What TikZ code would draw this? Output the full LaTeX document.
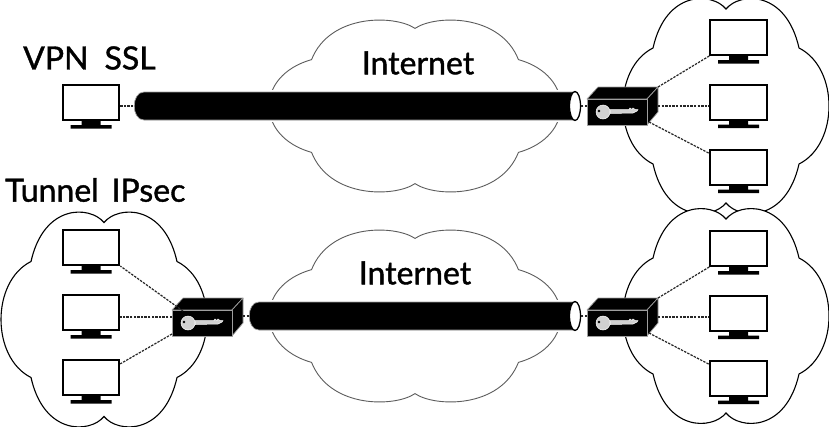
\documentclass[tikz,border=0pt]{standalone}
\usepackage{fontspec}
\usetikzlibrary{shapes.geometric}
\setmainfont[FakeBold=1.2]{Lato}
\definecolor{edgegray}{gray}{0.62}
\definecolor{netgray}{gray}{0.36}
\tikzset{
  x=1pt,y=-1pt,
  screen/.style={draw=black,fill=white,line width=2pt,minimum width=56.5pt,minimum height=35pt,inner sep=0pt,outer sep=1pt},
  link/.style={line width=1.2pt,dash pattern=on 2.4pt off 1.2pt,draw=black!85},
  sidecloud/.style={draw=black,line width=1.1pt,fill=white},
  netcloud/.style={draw=netgray,line width=0.9pt,fill=white},
  tubebody/.style={fill=black,draw=edgegray,line width=0.7pt},
  tubemouth/.style={fill=white,draw=black,line width=1.3pt},
  boxface/.style={fill=black,draw=edgegray,line width=0.7pt,line join=round},
  frontface/.style={boxface,minimum width=60pt,minimum height=26pt,inner sep=0pt,outer sep=0pt},
  keypart/.style={fill=white!82!black,draw=white,line width=0.5pt},
  handtext/.style={font=\fontsize{32}{36}\selectfont,inner sep=0pt,text=black}
}
\newcommand{\cloudat}[5]{% style, cx, cy, xscale, yscale
  \path[#1,shift={(#2,#3)}] (0,-97*#5) 
    .. controls (-14*#4,-114*#5) and (-60*#4,-116*#5) .. (-73*#4,-58*#5)
    .. controls (-113*#4,-38*#5) and (-113*#4,38*#5) .. (-73*#4,58*#5)
    .. controls (-60*#4,116*#5) and (-14*#4,114*#5) .. (0,97*#5)
    .. controls (14*#4,114*#5) and (60*#4,116*#5) .. (73*#4,58*#5)
    .. controls (113*#4,38*#5) and (113*#4,-38*#5) .. (73*#4,-58*#5)
    .. controls (60*#4,-116*#5) and (14*#4,-114*#5) .. (0,-97*#5) -- cycle;
}
\newcommand{\monitor}[3]{%
  \node[screen] (#1) at (#2,#3) {};
  \fill[black,shift={(#2,#3)}] (-9.5,18) rectangle (9.5,22.5) (-20.5,22.5) rectangle (20.5,26);
}
\newcommand{\tube}[4]{% name, left, right, cy
  \fill[white] (#2-2,#4-16) rectangle (#3+8,#4+16);
  \path[tubebody] (#2+10,#4-14) .. controls (#2-3,#4-14) and (#2-3,#4+14) .. (#2+10,#4+14)
     -- (#3,#4+14) -- (#3,#4-14) -- cycle;
  \node[tubemouth,ellipse,minimum width=11pt,minimum height=29pt,inner sep=0pt,outer sep=0pt] (#1) at (#3,#4) {};
  \coordinate (#1l) at (#2,#4);
}
\newcommand{\router}[3]{%
  \path[boxface] (#2-30,#3-13) -- (#2-19,#3-25) -- (#2+41,#3-25) -- (#2+30,#3-13) -- cycle;
  \path[boxface] (#2+30,#3-13) -- (#2+41,#3-25) -- (#2+41,#3) -- (#2+30,#3+13) -- cycle;
  \node[frontface] (#1) at (#2,#3) {};
  \coordinate (#1top) at (#2+41,#3-25);
  \coordinate (#1mid) at (#2+41,#3-6);
  \coordinate (#1low) at (#2+32,#3+10);
  \coordinate (#1lefttop) at (#2-19,#3-12);
  \coordinate (#1leftmid) at (#2-30,#3-6);
  \coordinate (#1leftlow) at (#2-30,#3+11);
  \path[keypart] (#2-7,#3-2.5) -- (#2+12,#3-2.5) -- (#2+13,#3-4) -- (#2+15,#3-2.5) -- (#2+16,#3-4) -- (#2+18,#3-2.5)
     -- (#2+21,#3-2.5) -- (#2+20,#3-1) -- (#2+16,#3+1) -- (#2-7,#3+1.5) -- cycle;
  \path[keypart] (#2-14,#3) circle[radius=7pt];
  \fill[black] (#2-18,#3-1) circle[radius=1.3pt];
}
\begin{document}
\begin{tikzpicture}
\useasboundingbox (0,0) rectangle (829,426);
% clouds
\cloudat{netcloud}{415}{106}{1.417}{0.8}
\cloudat{netcloud}{415}{316}{1.417}{0.8}
\cloudat{sidecloud}{726}{106}{1}{1}
\cloudat{sidecloud}{726}{316}{1}{1}
\cloudat{sidecloud}{104}{319.5}{1}{1}
% tubes
\tube{tubeA}{134}{575}{106}
\tube{tubeB}{249}{575}{316}
% routers
\router{routerA}{617}{112}
\router{routerB}{617}{323}
\router{routerC}{202}{323}
% monitors
\monitor{ssl}{91}{102.5}
\monitor{a1}{738.5}{37.5}
\monitor{a2}{738.5}{102}
\monitor{a3}{738.5}{167}
\monitor{b1}{738.5}{248.5}
\monitor{b2}{738.5}{313}
\monitor{b3}{738.5}{378}
\monitor{c1}{91}{247.5}
\monitor{c2}{91}{312.5}
\monitor{c3}{91}{377.5}
% connectors
\draw[link] (ssl.east |- tubeAl) -- (tubeAl);
\draw[link] (routerA.west |- tubeA) -- (tubeA.east);
\draw[link] (routerB.west |- tubeB) -- (tubeB.east);
\draw[link] (routerCtop |- tubeBl) -- (tubeBl);
\draw[link] (routerAtop) -- (a1.south west);
\draw[link] (routerAmid) -- (routerAmid -| a2.west);
\draw[link] (routerAlow) -- (a3.155);
\draw[link] (routerBtop) -- (b1.south west);
\draw[link] (routerBmid) -- (routerBmid -| b2.west);
\draw[link] (routerBlow) -- (b3.155);
\draw[link] (routerClefttop) -- (c1.south east);
\draw[link] (routerCleftmid) -- (routerCleftmid -| c2.east);
\draw[link] (routerCleftlow) -- (c3.25);
% labels
\node[handtext] (t1) at (418,63) {Internet};
\node[handtext] (t2) at (415,273) {Internet};
\node[handtext,anchor=west] (t3) at (23,58) {VPN\hspace{0.5em}SSL};
\node[handtext,anchor=west] (t4) at (5,190) {Tunnel\hspace{0.4em}IPsec};
\end{tikzpicture}
\end{document}
